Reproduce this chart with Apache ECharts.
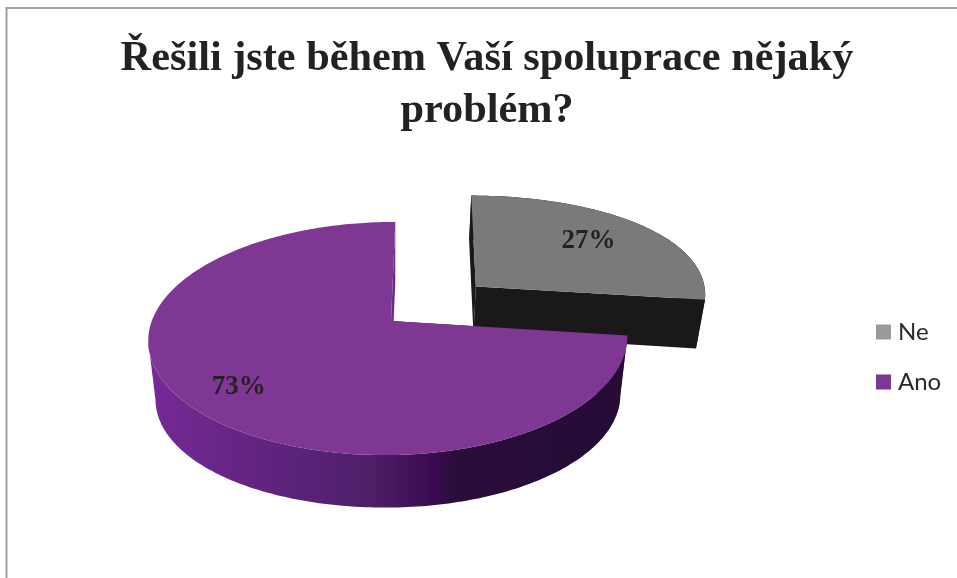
<!DOCTYPE html>
<html>
<head>
<meta charset="utf-8">
<style>html,body{margin:0;padding:0;background:#fff}#chart{width:957px;height:578px}</style>
<script src="https://cdn.jsdelivr.net/npm/echarts@6/dist/echarts.min.js"></script>
</head>
<body>
<div id="chart"></div>
<script>
// Answers to the survey question, in percent
var categories = ['Ne', 'Ano'];
var shares = [27, 73];
var titleLines = ['Řešili jste během Vaší spoluprace nějaký', 'problém?'];

var total = shares.reduce(function (a, b) { return a + b; }, 0);
var toRad = Math.PI / 180;

// Tilted-disc projection: u runs right, v runs away from the viewer, z runs down
var view = { cx: 391, cy: 321, depth: 114, pY: 0.15, pZ: 0.03 };
function project(u, v, z, face) {
  var wx = 1 + face.pX * v + view.pZ * z;
  var wy = 1 + view.pY * v + face.sag * z;
  var a = u < 0 ? face.aLeft : face.aRight;
  return [view.cx + face.nudge + (a * u + face.skew * v) / wx,
          view.cy + (-view.depth * v + face.thick * z) / wy];
}

// Ne is pulled out of the disc; Ano keeps the centre
var faces = [
  { top: '#7a7a78', wall: '#191919', cut: '#191919', explode: 0.48, labelR: 0.70, labelShift: [-2, 0],
    thick: 51, sag: 0.03, skew: 0, pX: 0.06, aLeft: 233, aRight: 233, nudge: 2.5 },
  { top: '#7f3794', cut: '#6a2a88', endCut: '#250b35', explode: 0, labelR: 0.77, labelShift: [0, 3],
    thick: 67, sag: 0.12, skew: 5, pX: 0.15, aLeft: 239.2, aRight: 234.4, nudge: 0,
    wall: { type: 'linear', x: 0, y: 0, x2: 1, y2: 0, colorStops: [
      { offset: 0, color: '#76299a' }, { offset: 0.06, color: '#702890' },
      { offset: 0.32, color: '#5a2278' }, { offset: 0.46, color: '#4d2068' },
      { offset: 0.6, color: '#3a0a50' }, { offset: 0.64, color: '#2b0d3c' },
      { offset: 1, color: '#250b35' }] } }
];
var labelFont = 'bold 27px "Liberation Serif", serif';

function sliceRender(index) {
  var before = shares.slice(0, index).reduce(function (a, b) { return a + b; }, 0);
  var startDeg = before / total * 360;
  var face = faces[index];
  return function (params, api) {
    var value = api.value(0);
    var endDeg = startDeg + value / total * 360;
    var midRad = (startDeg + endDeg) / 2 * toRad;
    var du = face.explode * Math.sin(midRad);
    var dv = face.explode * Math.cos(midRad);
    function rimPoint(deg, z) {
      return project(du + Math.sin(deg * toRad), dv + Math.cos(deg * toRad), z, face);
    }
    var topRim = [], lowRim = [];
    for (var d = startDeg; d < endDeg; d += 1) {
      topRim.push(rimPoint(d, 0));
      lowRim.push(rimPoint(d, 1));
    }
    topRim.push(rimPoint(endDeg, 0));
    lowRim.push(rimPoint(endDeg, 1));

    // The outer wall only needs the rim up to its leftmost point; past it the wall is behind the top
    var leftmost = 0;
    topRim.forEach(function (p, i) { if (p[0] < topRim[leftmost][0]) { leftmost = i; } });
    var wallEnd = leftmost === 0 ? topRim.length : leftmost + 1;

    var apexTop = project(du, dv, 0, face);
    var apexLow = project(du, dv, 1, face);
    var labelPos = project(du + face.labelR * Math.sin(midRad), dv + face.labelR * Math.cos(midRad), 0, face);
    function poly(points, fill) {
      return { type: 'polygon', shape: { points: points }, style: { fill: fill, stroke: null } };
    }
    return {
      type: 'group',
      children: [
        poly(topRim.slice(0, wallEnd).concat(lowRim.slice(0, wallEnd).reverse()), face.wall),
        poly([apexTop, topRim[topRim.length - 1], lowRim[lowRim.length - 1], apexLow], face.cut),
        poly([apexTop, topRim[0], lowRim[0], apexLow], face.endCut || face.cut),
        poly([apexTop].concat(topRim), face.top),
        { type: 'text', style: { text: value + '%', x: labelPos[0] + face.labelShift[0], y: labelPos[1] + face.labelShift[1],
            font: labelFont, fill: '#222222', textAlign: 'center', textVerticalAlign: 'middle' } }
      ]
    };
  };
}

var chart = echarts.init(document.getElementById('chart'), null, { renderer: 'canvas' });
chart.setOption({
  animation: false,
  backgroundColor: '#ffffff',
  title: {
    text: titleLines.join('\n'),
    left: 482, top: 28, textAlign: 'center',
    textStyle: { fontFamily: '"Liberation Serif", serif', fontWeight: 'bold', fontSize: 42.3,
      lineHeight: 52, color: '#222222' }
  },
  legend: {
    orient: 'vertical', left: 876, top: 320, padding: 0, icon: 'rect',
    itemWidth: 15, itemHeight: 15, itemGap: 26,
    textStyle: { fontFamily: 'Lato, sans-serif', fontSize: 24, color: '#2a2a2a', padding: [0, 0, 0, 2] },
    selectedMode: false,
    data: [
      { name: categories[0], itemStyle: { color: '#98989d' } },
      { name: categories[1], itemStyle: { color: '#7f3794' } }
    ]
  },
  graphic: [
    { type: 'polyline', silent: true, z: -1,
      shape: { points: [[6.5, 578], [6.5, 8], [957, 8]] },
      style: { stroke: '#a0a0a4', lineWidth: 2, fill: null } }
  ],
  series: categories.map(function (name, i) {
    return {
      type: 'custom', name: name, coordinateSystem: 'none', silent: true,
      data: [[shares[i]]],
      itemStyle: { color: faces[i].top },
      renderItem: sliceRender(i)
    };
  })
});
</script>
</body>
</html>
